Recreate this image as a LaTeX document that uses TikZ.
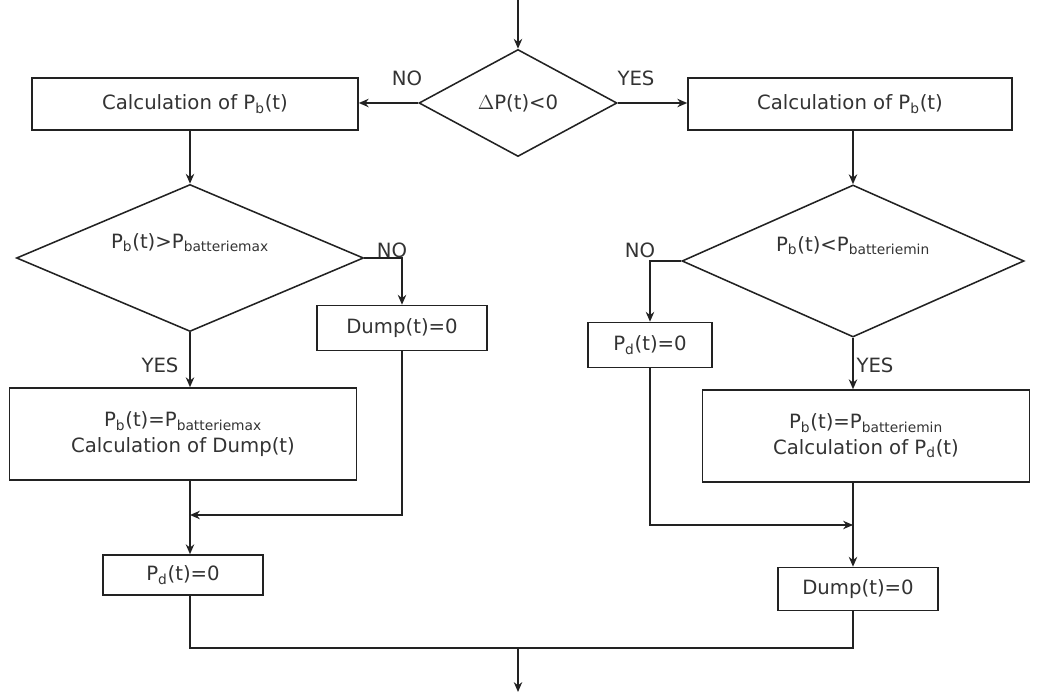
\documentclass[tikz,border=0pt]{standalone}
\usepackage{fontspec}
\setmainfont{DejaVu Sans}
\usepackage{tikz}
\usetikzlibrary{shapes.geometric,arrows.meta}
\definecolor{cline}{HTML}{222222}
\definecolor{ctxt}{HTML}{333333}
% keep the diamond at its minimum size whatever the text
\newcommand{\testtext}[1]{\makebox[0pt]{\smash{\raisebox{7pt}{#1}}}}

\begin{document}
\begin{tikzpicture}[x=0.025cm,y=-0.025cm,>={Stealth[length=7pt,width=6pt]},
  every node/.style={text=ctxt,font=\fontsize{14}{18}\selectfont},
  blok/.style={draw=cline,line width=1.1pt,rectangle,inner sep=2pt,align=center},
  test/.style={draw=cline,line width=1.1pt,diamond,inner sep=0pt},
  flow/.style={draw=cline,line width=1.1pt}]
  \useasboundingbox (0,0) rectangle (1040,694);
  % decisions
  \node[test,minimum width=4.95cm,minimum height=2.675cm] (dTop) at (518,103) {$\Delta$P(t)<0};
  \node[test,minimum width=8.675cm,minimum height=3.675cm] (dL) at (190,258) {\testtext{P\textsubscript{b}(t)>P\textsubscript{batteriemax}}};
  \node[test,minimum width=8.55cm,minimum height=3.8cm] (dR) at (853,261) {\testtext{P\textsubscript{b}(t)<P\textsubscript{batteriemin}}};
  % boxes
  \node[blok,minimum width=8.15cm,minimum height=1.3cm] (calcL) at (195,104) {Calculation of P\textsubscript{b}(t)};
  \node[blok,minimum width=8.1cm,minimum height=1.3cm] (calcR) at (850,104) {Calculation of P\textsubscript{b}(t)};
  \node[blok,minimum width=4.25cm,minimum height=1.125cm] (dumpL) at (402,328) {Dump(t)=0};
  \node[blok,minimum width=8.675cm,minimum height=2.3cm] (bigL) at (183,434) {P\textsubscript{b}(t)=P\textsubscript{batteriemax}\\Calculation of Dump(t)};
  \node[blok,minimum width=4cm,minimum height=1cm] (pdL) at (183,575) {P\textsubscript{d}(t)=0};
  \node[blok,minimum width=3.1cm,minimum height=1.125cm] (pdR) at (650,345) {P\textsubscript{d}(t)=0};
  \node[blok,minimum width=8.175cm,minimum height=2.3cm] (bigR) at (866,436) {P\textsubscript{b}(t)=P\textsubscript{batteriemin}\\Calculation of P\textsubscript{d}(t)};
  \node[blok,minimum width=4cm,minimum height=1.075cm] (dumpR) at (858,589) {Dump(t)=0};
  % labels
  \node (noT) at (407,78) {NO};
  \node (yesT) at (636,78) {YES};
  \node (noL) at (392,250) {NO};
  \node (yesL) at (160,365) {YES};
  \node (noR) at (640,250) {NO};
  \node (yesR) at (875,365) {YES};
  % junctions
  \coordinate (in) at (518,0);
  \coordinate (jL) at (190,515);
  \coordinate (jR) at (853,525);
  \coordinate (bL) at (190,648);
  \coordinate (bR) at (853,648);
  \coordinate (bM) at (518,648);
  \coordinate (out) at (518,692);
  % connectors
  \draw[flow,->] (in) -- (dTop.north);
  \draw[flow,->] (dTop.west) -- (calcL.east |- dTop.west);
  \draw[flow,->] (dTop.east) -- (calcR.west |- dTop.east);
  \draw[flow,->] (calcL.south -| dL.north) -- (dL.north);
  \draw[flow,->] (calcR.south -| dR.north) -- (dR.north);
  \draw[flow,->] (dL.east) -| (dumpL.north);
  \draw[flow,->] (dR.west) -| (pdR.north);
  \draw[flow,->] (dL.south) -- (bigL.north -| dL.south);
  \draw[flow,->] (dR.south) -- (bigR.north -| dR.south);
  \draw[flow,->] (bigL.south -| dL.south) -- (pdL.north -| dL.south);
  \draw[flow,->] (bigR.south -| dR.south) -- (dumpR.north -| dR.south);
  \draw[flow,->] (dumpL.south) |- (jL);
  \draw[flow,->] (pdR.south) |- (jR);
  \draw[flow] (pdL.south -| bL) -- (bL) -- (bR) -- (dumpR.south -| bR);
  \draw[flow,->] (bM) -- (out);
\end{tikzpicture}
\end{document}
